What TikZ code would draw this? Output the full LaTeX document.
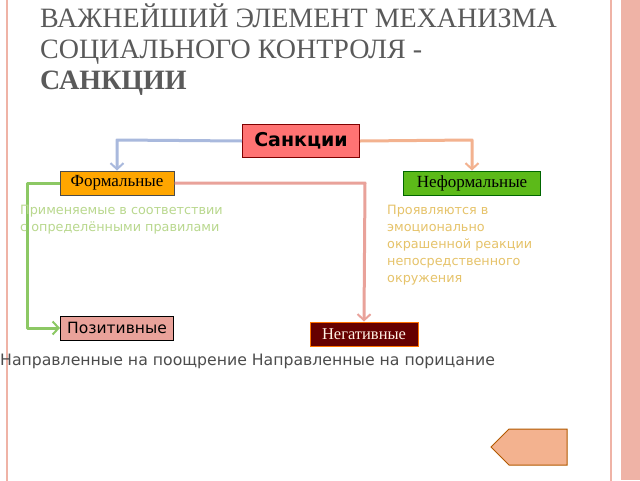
\documentclass[tikz,border=0pt]{standalone}
\usepackage{fontspec}
\setmainfont{Liberation Serif}
\setsansfont{DejaVu Sans}
\usetikzlibrary{shapes.arrows,arrows.meta}
\definecolor{frame}{HTML}{EFB3A6}
\definecolor{titlegray}{HTML}{5A5A5A}
\definecolor{bluelink}{HTML}{A9B9DD}
\definecolor{orangelink}{HTML}{F3B28F}
\definecolor{greenlink}{HTML}{8CC864}
\definecolor{pinklink}{HTML}{E9A29A}
\definecolor{greentext}{HTML}{B9D88E}
\definecolor{yellowtext}{HTML}{E6C36A}
\begin{document}
\begin{tikzpicture}[x=1pt,y=-1pt]
\tikzstyle{box}= [rectangle,draw,line width=1pt,inner sep=0pt,minimum height=24pt]
\tikzstyle{link}= [line width=3pt,line join=round]
\tikzstyle{tip}= [-{Straight Barb[length=6pt,width=13pt,line width=2pt]}]
\tikzstyle{note}= [anchor=north west,inner sep=0pt,font=\sffamily\fontsize{12.8}{17}\selectfont,align=left]

\useasboundingbox (0,0) rectangle (640,480);
% slide frame
\fill[white] (0,0) rectangle (640,480);
\draw[frame,line width=2pt] (7,-2) -- (7,482);
\draw[frame,line width=2pt] (611,-2) -- (611,482);
\fill[frame] (621,0) rectangle (640,480);

% title
\node[anchor=north west,inner sep=0pt,align=left,text=titlegray,
  font=\rmfamily\fontsize{28}{31}\selectfont] (title) at (40,4)
  {ВАЖНЕЙШИЙ ЭЛЕМЕНТ МЕХАНИЗМА\\СОЦИАЛЬНОГО КОНТРОЛЯ -\\\textbf{САНКЦИИ}};

\path
	(301,141) node[box,draw=red!50!black,fill=red!55,minimum width=117pt,minimum height=33pt,
	  font=\sffamily\bfseries\fontsize{19}{20}\selectfont] (sanc) {Санкции}
	(117,183) node[box,draw=black!70,fill=orange!70!yellow,minimum width=114pt,
	  font=\rmfamily\fontsize{17}{18}\selectfont] (formal) {Формальные}
	(472,183) node[box,draw=green!40!black,fill=green!45!lime!70!black!90,minimum width=137pt,
	  font=\rmfamily\fontsize{17}{18}\selectfont] (inform) {Неформальные}
	(117,328) node[box,draw=black,fill=pinklink,minimum width=113pt,
	  font=\sffamily\fontsize{15.5}{16}\selectfont] (pos) {Позитивные}
	(364,334) node[box,draw=orange!90!red,fill=red!40!black,text=white!90!orange,minimum width=108pt,
	  font=\rmfamily\fontsize{16.5}{17}\selectfont] (neg) {Негативные}
;
\coordinate (bend1) at (117,140);
\coordinate (bend2) at (472,140);
\coordinate (bend3) at (27,183);
\coordinate (bend4) at (27,328);
\coordinate (bend5) at (365,183);

\draw[link,bluelink,tip] (sanc.west) -- (bend1) -- (formal.north);
\draw[link,orangelink,tip] (sanc.east) -- (bend2) -- (inform.north);
\draw[link,greenlink,tip] (formal.west) -- (bend3) -- (bend4) -- (pos.west);
\draw[link,pinklink,tip] (formal.east) -- (bend5) -- (neg.north);

\node[note,text=greentext] (fnote) at (20,205) {Применяемые в соответствии\\с определёнными правилами};
\node[note,text=yellowtext] (inote) at (387,205)
  {Проявляются в\\эмоционально\\окрашенной реакции\\непосредственного\\окружения};
\node[note,text=black!70,font=\sffamily\fontsize{15.7}{17}\selectfont] (bnote) at (0,354)
  {Направленные на поощрение Направленные на порицание};

% back button
\node[single arrow,shape border rotate=180,draw=orange!70!black,fill=orangelink,line width=1pt,
  minimum height=76pt,minimum width=36pt,single arrow head extend=0pt,inner sep=6pt] (back) at (538,447) {};
\end{tikzpicture}
\end{document}
